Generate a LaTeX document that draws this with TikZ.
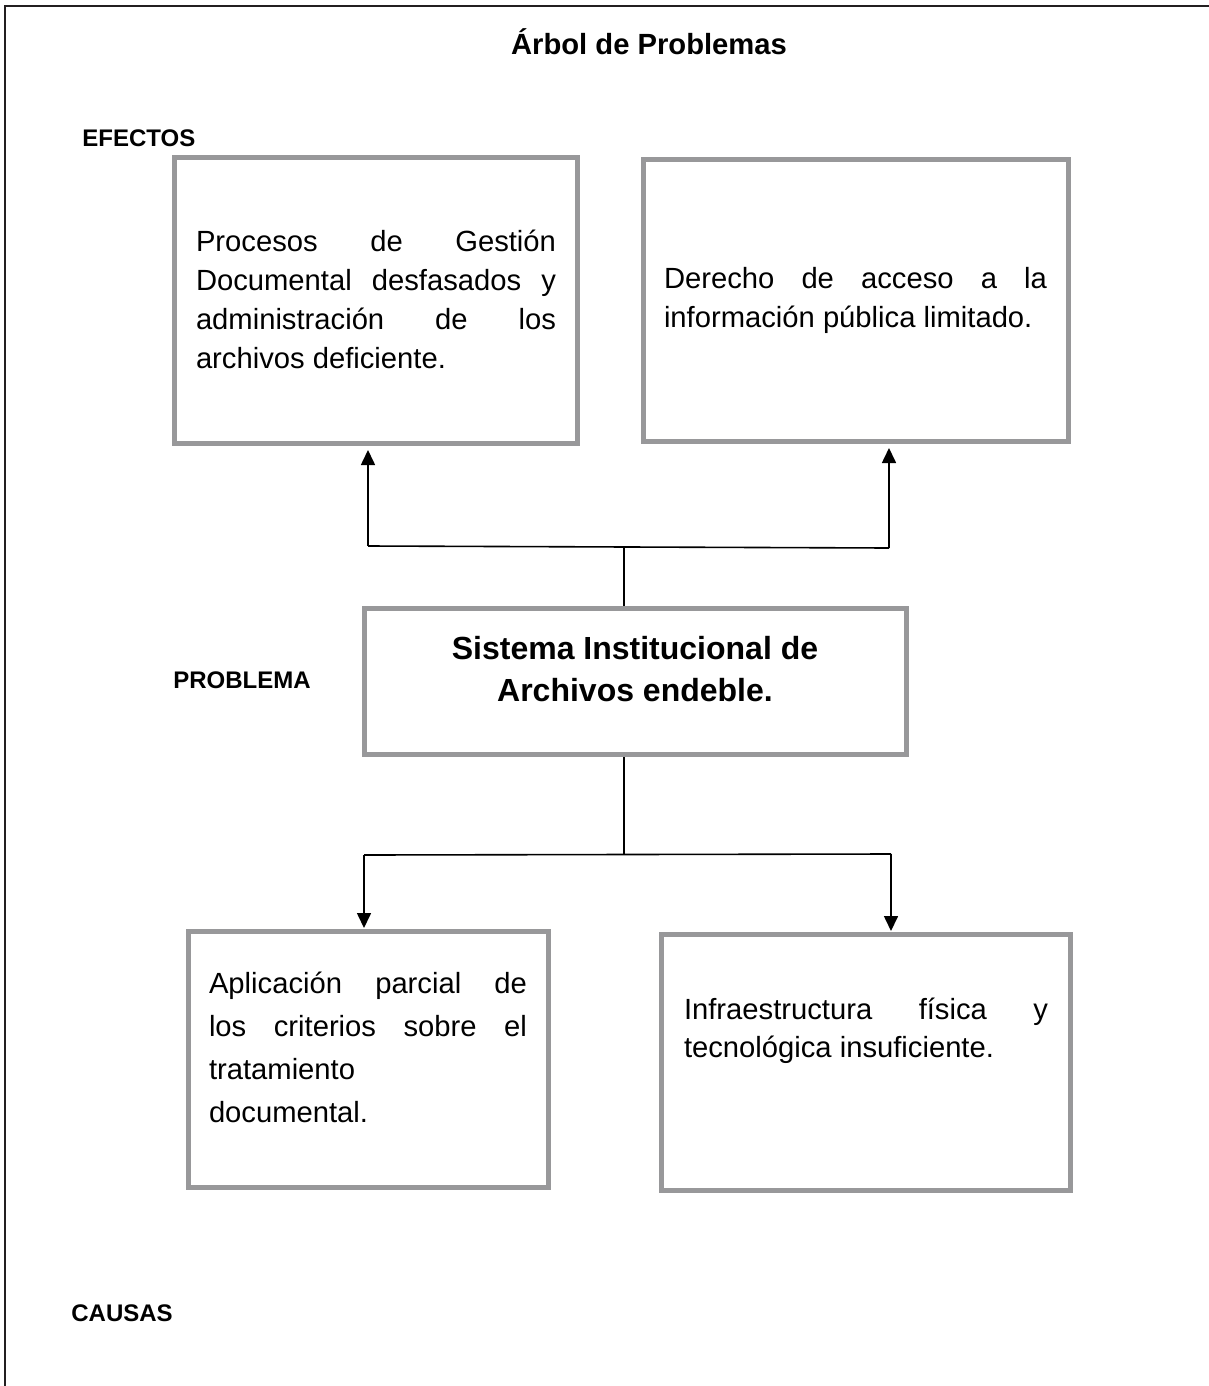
\documentclass[tikz,border=0pt]{standalone}
\usepackage{fontspec}
\setmainfont{Liberation Sans}
\usetikzlibrary{arrows.meta}
\definecolor{boxgray}{RGB}{152,152,154}
\definecolor{framegray}{RGB}{35,31,32}

\begin{document}
\begin{tikzpicture}[x=0.5pt,y=-0.5pt,
    box/.style={draw=boxgray,line width=2.5pt,inner sep=0pt},
    txt/.style={draw=none,inner sep=0pt,align=justify,font=\fontsize{14.6}{19.5}\selectfont},
    lbl/.style={draw=none,inner sep=0pt,anchor=west,font=\fontsize{12}{14}\selectfont\bfseries},
    link/.style={line width=0.8pt},
    arr/.style={line width=0.8pt,-{Triangle[width=7pt,length=7.5pt]}}]
             \useasboundingbox (0,0) rectangle (1209,1386);
             \draw[framegray,line width=1.2pt] (1209,6) -- (5,6) -- (5,1386);

             \node[draw=none,font=\fontsize{14.6}{17}\selectfont\bfseries] (title) at (649,42) {Árbol de Problemas};
             \node[lbl] (efectos) at (82,138) {EFECTOS};
             \node[lbl] (problema) at (173,680) {PROBLEMA};
             \node[lbl] (causas) at (71,1313) {CAUSAS};

             \node[box,minimum width=201.5pt,minimum height=143pt] (E1) at (376,300.5) {};
             \node[box,minimum width=212.5pt,minimum height=141pt] (E2) at (856,300.5) {};
             \node[box,minimum width=271pt,minimum height=73pt] (P) at (635.5,681.5) {};
             \node[box,minimum width=180pt,minimum height=128pt] (C1) at (368.5,1059.5) {};
             \node[box,minimum width=204.5pt,minimum height=128pt] (C2) at (866,1062.5) {};

             \node[txt,text width=180pt] (E1t) at (376,299.5) {Procesos de Gestión\linebreak Documental desfasados y\linebreak administración de los\linebreak archivos deficiente.};
             \node[txt,text width=191.5pt] (E2t) at (855.5,300.5) {Derecho de acceso a la\linebreak información pública limitado.};
             \node[draw=none,inner sep=0pt,align=center,font=\fontsize{16}{21}\selectfont\bfseries] (Pt) at (635,669) {Sistema Institucional de\\Archivos endeble.};
             \node[txt,text width=159pt,font=\fontsize{14.6}{21.5}\selectfont] (C1t) at (368,1047.5) {Aplicación parcial de\linebreak los criterios sobre el\linebreak tratamiento\newline documental.};
             \node[txt,text width=182pt,font=\fontsize{14.6}{19}\selectfont] (C2t) at (866,1031) {Infraestructura física y\linebreak tecnológica insuficiente.};

             \coordinate (ul) at (368,546);
             \coordinate (um) at (624,547);
             \coordinate (ur) at (889,548);
             \draw[link] (ul) -- (ur);
             \draw[link] (um |- P.north) -- (um);
             \draw[arr,shorten >=2pt] (ul) -- (ul |- E1.south);
             \draw[arr,shorten >=2pt] (ur) -- (ur |- E2.south);

             \coordinate (dl) at (364,855);
             \coordinate (dm) at (624,855);
             \coordinate (dr) at (891,854);
             \draw[link] (dm |- P.south) -- (dm);
             \draw[link] (dl) -- (dr);
             \draw[arr,shorten >=0.5pt] (dl) -- (dl |- C1.north);
             \draw[arr,shorten >=0.5pt] (dr) -- (dr |- C2.north);
\end{tikzpicture}
\end{document}
